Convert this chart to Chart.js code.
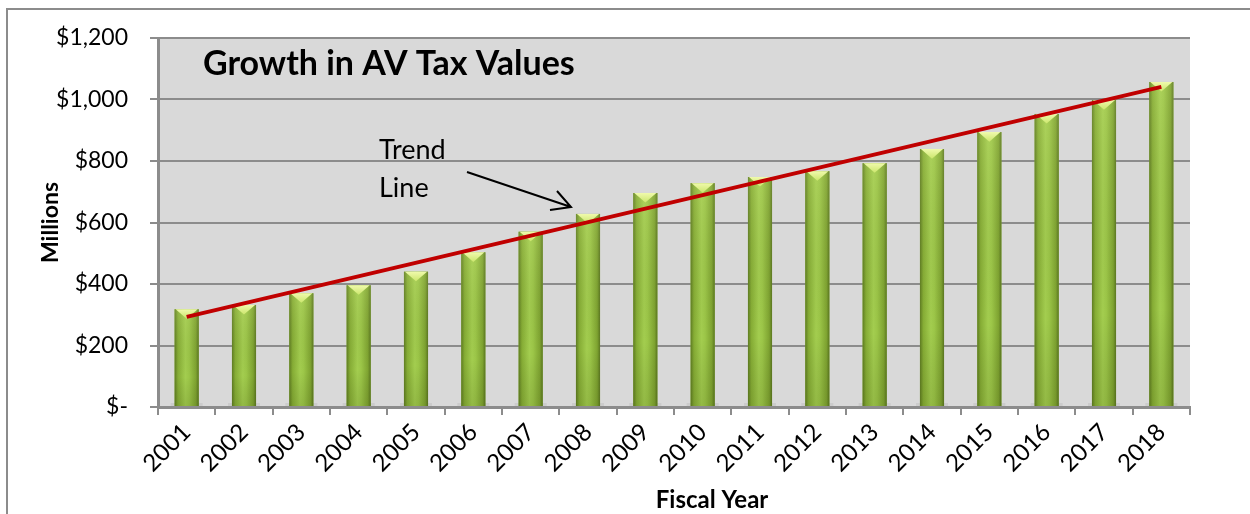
<!DOCTYPE HTML>
<html>
<head>
    <title>Growth in AV Tax Values</title>
    <meta charset="utf-8" />
    <script src="https://cdn.jsdelivr.net/npm/chart.js@4/dist/chart.umd.min.js"></script>
    <style>
        html, body { margin: 0; padding: 0; background: #fff; }
        #wrap { width: 1250px; height: 514px; position: relative; }
    </style>
    <script>
        // fiscal years and assessed values, in millions of dollars
        const years = ['2001', '2002', '2003', '2004', '2005', '2006', '2007', '2008', '2009',
            '2010', '2011', '2012', '2013', '2014', '2015', '2016', '2017', '2018'];
        const av_values = [318, 332, 370, 396, 440, 503, 570, 628, 696,
            728, 748, 767, 793, 839, 894, 953, 998, 1057];
        // trend line end points (first and last year)
        const trend_start = 293;
        const trend_end = 1041;
        const y_ticks = [0, 200, 400, 600, 800, 1000, 1200];

        const font_family = "Lato, 'Open Sans', sans-serif";
        const grid_color = '#8c8c8c';
        let chart;
    </script>
</head>

<body>
    <div id="wrap"><canvas id="chartCanvas" width="1250" height="514"></canvas></div>

    <script>
        const trend_data = years.map((y, i) => {
            if (i === 0) return trend_start;
            if (i === years.length - 1) return trend_end;
            return null;
        });

        // white page, frame lines and grey plot background
        const backdrop = {
            id: 'backdrop',
            beforeDraw(c) {
                const ctx = c.ctx;
                const a = c.chartArea;
                ctx.save();
                ctx.fillStyle = '#fff';
                ctx.fillRect(0, 0, c.width, c.height);
                ctx.fillStyle = '#d9d9d9';
                ctx.fillRect(a.left, a.top, a.right - a.left, a.bottom - a.top);
                ctx.strokeStyle = '#8c8c8c';
                ctx.lineWidth = 2;
                ctx.beginPath();
                ctx.moveTo(c.width, 9);
                ctx.lineTo(7, 9);
                ctx.lineTo(7, c.height);
                ctx.stroke();
                ctx.restore();
            }
        };

        // shade each bar like a rounded column with a pale pointed cap
        const column_shade = {
            id: 'column_shade',
            afterDatasetDraw(c, args) {
                if (args.index !== 0) return;
                const ctx = c.ctx;
                args.meta.data.forEach(bar => {
                    const p = bar.getProps(['x', 'y', 'width', 'base'], true);
                    const l = p.x - p.width / 2;
                    const r = p.x + p.width / 2;
                    ctx.save();
                    // soft shadow at the foot
                    ctx.fillStyle = 'rgba(0,0,0,0.06)';
                    ctx.fillRect(l - 4, p.base - 3, p.width + 8, 3);

                    const g = ctx.createLinearGradient(l, 0, r, 0);
                    g.addColorStop(0, '#5f7d22');
                    g.addColorStop(0.14, '#86ad35');
                    g.addColorStop(0.45, '#a3cd4f');
                    g.addColorStop(0.6, '#9cc648');
                    g.addColorStop(0.88, '#7fa431');
                    g.addColorStop(1, '#5b7720');
                    ctx.fillStyle = g;
                    ctx.fillRect(l, p.y, p.width, p.base - p.y);

                    // darker toward the base
                    const v = ctx.createLinearGradient(0, p.y, 0, p.base);
                    v.addColorStop(0, 'rgba(255,255,200,0.10)');
                    v.addColorStop(0.7, 'rgba(0,0,0,0)');
                    v.addColorStop(1, 'rgba(40,50,0,0.12)');
                    ctx.fillStyle = v;
                    ctx.fillRect(l, p.y, p.width, p.base - p.y);

                    // cap
                    const capH = p.width * 0.4;
                    const cg = ctx.createLinearGradient(0, p.y, 0, p.y + capH);
                    cg.addColorStop(0, '#f0faac');
                    cg.addColorStop(1, '#cbe66c');
                    ctx.fillStyle = cg;
                    ctx.beginPath();
                    ctx.moveTo(l + 1, p.y);
                    ctx.lineTo(r - 1, p.y);
                    ctx.lineTo(p.x, p.y + capH);
                    ctx.closePath();
                    ctx.fill();
                    ctx.restore();
                });
            }
        };

        // chart title, trend label with arrow, and x axis title
        const notes = {
            id: 'notes',
            afterDraw(c) {
                const ctx = c.ctx;
                ctx.save();
                ctx.fillStyle = '#000';
                ctx.textBaseline = 'middle';
                ctx.textAlign = 'left';
                ctx.font = "bold 34px " + font_family;
                ctx.fillText('Growth in AV Tax Values', 203, 64);

                ctx.font = "27px " + font_family;
                ctx.fillText('Trend', 379, 150);
                ctx.fillText('Line', 379, 188);

                ctx.strokeStyle = '#000';
                ctx.lineWidth = 2;
                ctx.beginPath();
                ctx.moveTo(467, 172);
                ctx.lineTo(571, 207);
                ctx.moveTo(557, 191);
                ctx.lineTo(571, 207);
                ctx.lineTo(550, 210);
                ctx.stroke();

                ctx.textAlign = 'center';
                ctx.font = "bold 24px " + font_family;
                ctx.fillText('Fiscal Year', 712, 500);
                ctx.restore();
            }
        };

        const config = {
            data: {
                labels: years,
                datasets: [
                    {
                        type: 'bar',
                        label: 'AV Tax Values',
                        data: av_values,
                        backgroundColor: '#8fb93d',
                        barPercentage: 0.42,
                        categoryPercentage: 1,
                        order: 1
                    },
                    {
                        type: 'line',
                        label: 'Trend',
                        data: trend_data,
                        spanGaps: true,
                        borderColor: '#c00000',
                        borderWidth: 4,
                        pointRadius: 0,
                        order: 0
                    }
                ]
            },
            options: {
                responsive: false,
                animation: false,
                devicePixelRatio: 1,
                layout: {
                    padding: { left: 0, top: 38, right: 60, bottom: 0 }
                },
                plugins: {
                    legend: { display: false },
                    tooltip: { enabled: false }
                },
                scales: {
                    x: {
                        grid: {
                            offset: true,
                            drawOnChartArea: false,
                            drawTicks: true,
                            tickLength: 8,
                            color: grid_color,
                            lineWidth: 2
                        },
                        border: { display: true, color: grid_color, width: 3 },
                        ticks: {
                            color: '#000',
                            font: { family: font_family, size: 24 },
                            maxRotation: 45,
                            minRotation: 45,
                            padding: 3,
                            autoSkip: false
                        },
                        afterFit: scale => { scale.height = 107; }
                    },
                    y: {
                        min: 0,
                        max: 1200,
                        afterBuildTicks: scale => {
                            scale.ticks = y_ticks.map(v => ({ value: v }));
                        },
                        grid: {
                            color: grid_color,
                            lineWidth: 2,
                            tickLength: 8
                        },
                        border: { display: true, color: grid_color, width: 3 },
                        ticks: {
                            color: '#000',
                            font: { family: font_family, size: 23 },
                            padding: 22,
                            callback: v => v === 0 ? '$-' : '$' + v.toLocaleString('en-US')
                        },
                        title: {
                            display: true,
                            text: 'Millions',
                            color: '#000',
                            font: { family: font_family, size: 23, weight: 'bold' },
                            padding: { top: 37, bottom: 0 }
                        },
                        afterFit: scale => { scale.width = 158; }
                    }
                }
            },
            plugins: [backdrop, column_shade, notes]
        };

        chart = new Chart(document.getElementById('chartCanvas'), config);
    </script>
</body>
</html>
